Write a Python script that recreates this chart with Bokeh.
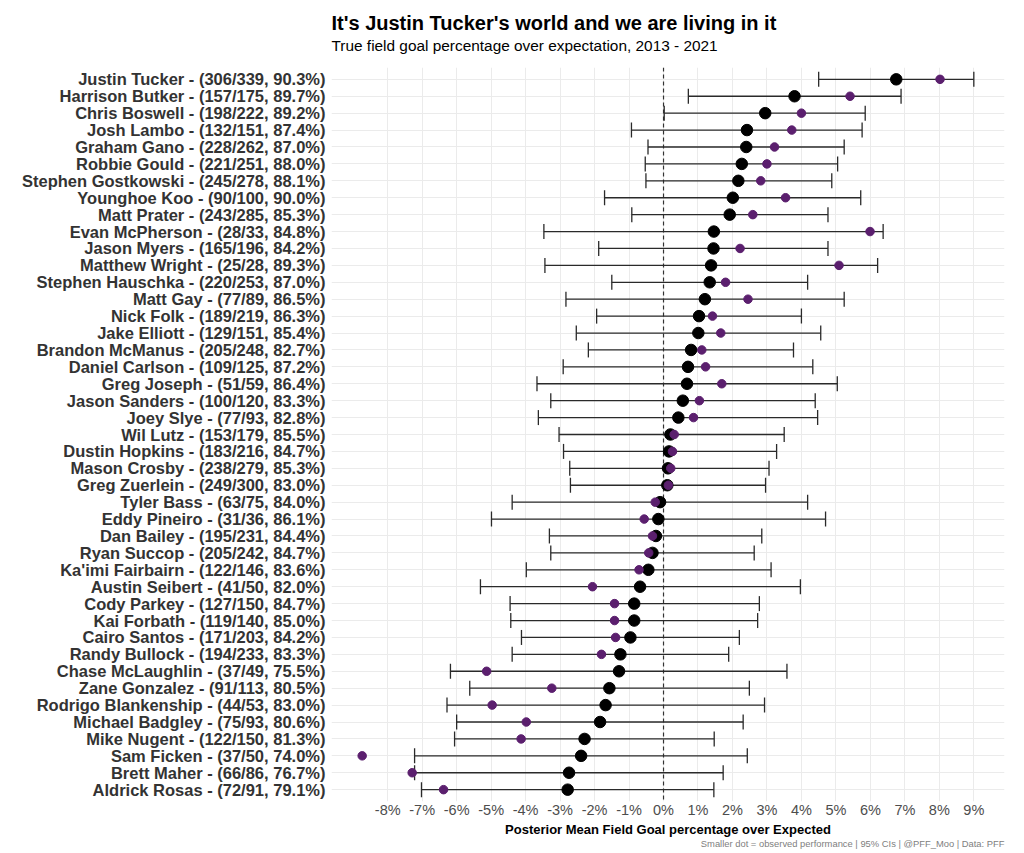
import math
from bokeh.plotting import figure
from bokeh.models import FactorRange, Range1d, FixedTicker, Span, Title, ColumnDataSource
from bokeh.embed import file_html
from bokeh.resources import INLINE

names = ["Justin Tucker", "Harrison Butker", "Chris Boswell", "Josh Lambo", "Graham Gano",
         "Robbie Gould", "Stephen Gostkowski", "Younghoe Koo", "Matt Prater", "Evan McPherson",
         "Jason Myers", "Matthew Wright", "Stephen Hauschka", "Matt Gay", "Nick Folk",
         "Jake Elliott", "Brandon McManus", "Daniel Carlson", "Greg Joseph", "Jason Sanders",
         "Joey Slye", "Wil Lutz", "Dustin Hopkins", "Mason Crosby", "Greg Zuerlein",
         "Tyler Bass", "Eddy Pineiro", "Dan Bailey", "Ryan Succop", "Ka'imi Fairbairn",
         "Austin Seibert", "Cody Parkey", "Kai Forbath", "Cairo Santos", "Randy Bullock",
         "Chase McLaughlin", "Zane Gonzalez", "Rodrigo Blankenship", "Michael Badgley", "Mike Nugent",
         "Sam Ficken", "Brett Maher", "Aldrick Rosas"]
made = [306, 157, 198, 132, 228, 221, 245, 90, 243, 28, 165, 25, 220, 77, 189, 129, 205, 109, 51, 100,
        77, 153, 183, 238, 249, 63, 31, 195, 205, 122, 41, 127, 119, 171, 194, 37, 91, 44, 75, 122,
        37, 66, 72]
attempts = [339, 175, 222, 151, 262, 251, 278, 100, 285, 33, 196, 28, 253, 89, 219, 151, 248, 125, 59, 120,
            93, 179, 216, 279, 300, 75, 36, 231, 242, 146, 50, 150, 140, 203, 233, 49, 113, 53, 93, 150,
            50, 86, 91]
fg_pct = [90.3, 89.7, 89.2, 87.4, 87.0, 88.0, 88.1, 90.0, 85.3, 84.8, 84.2, 89.3, 87.0, 86.5, 86.3,
          85.4, 82.7, 87.2, 86.4, 83.3, 82.8, 85.5, 84.7, 85.3, 83.0, 84.0, 86.1, 84.4, 84.7, 83.6,
          82.0, 84.7, 85.0, 84.2, 83.3, 75.5, 80.5, 83.0, 80.6, 81.3, 74.0, 76.7, 79.1]
posterior_mean = [6.75, 3.80, 2.95, 2.42, 2.40, 2.27, 2.17, 2.01, 1.92, 1.46, 1.45, 1.38, 1.34, 1.20, 1.03,
                  1.01, 0.80, 0.71, 0.68, 0.56, 0.43, 0.20, 0.16, 0.13, 0.11, -0.10, -0.15, -0.22, -0.32, -0.44,
                  -0.68, -0.85, -0.85, -0.96, -1.25, -1.29, -1.57, -1.68, -1.84, -2.29, -2.39, -2.74, -2.78]
observed = [8.02, 5.41, 4.00, 3.72, 3.22, 3.00, 2.82, 3.54, 2.59, 5.99, 2.22, 5.09, 1.80, 2.45, 1.42,
            1.66, 1.11, 1.22, 1.69, 1.04, 0.87, 0.31, 0.26, 0.21, 0.14, -0.24, -0.56, -0.32, -0.43, -0.71,
            -2.06, -1.42, -1.42, -1.39, -1.80, -5.13, -3.24, -4.97, -3.98, -4.13, -8.74, -7.29, -6.38]
ci_low = [4.50, 0.72, 0.02, -0.93, -0.45, -0.53, -0.51, -1.71, -0.92, -3.47, -1.88, -3.44, -1.50, -2.83, -1.94,
          -2.53, -2.18, -2.91, -3.67, -3.27, -3.63, -3.03, -2.90, -2.72, -2.70, -4.39, -4.99, -3.31, -3.27, -3.98,
          -5.31, -4.45, -4.43, -4.12, -4.39, -6.18, -5.62, -6.28, -6.00, -6.06, -7.22, -7.22, -7.02]
ci_high = [9.00, 6.89, 5.85, 5.76, 5.24, 5.05, 4.88, 5.72, 4.77, 6.37, 4.77, 6.21, 4.18, 5.24, 4.00,
           4.56, 3.77, 4.33, 5.04, 4.40, 4.47, 3.50, 3.28, 3.06, 2.96, 4.18, 4.70, 2.85, 2.63, 3.12,
           3.97, 2.78, 2.73, 2.20, 1.89, 3.58, 2.49, 2.93, 2.31, 1.47, 2.43, 1.73, 1.46]
x_ticks = list(range(-8, 10))

labels = [f"{n} - ({m}/{a}, {p:.1f}%)" for n, m, a, p in zip(names, made, attempts, fg_pct)]

src = ColumnDataSource(dict(label=labels, mean=posterior_mean, obs=observed, lo=ci_low, hi=ci_high))

FONT = "Liberation Sans"

p = figure(width=1024, height=853,
           y_range=FactorRange(factors=labels[::-1], range_padding=0.2, range_padding_units="absolute"),
           x_range=Range1d(-9.63, 9.89),
           output_backend="svg", toolbar_location=None, title_location=None,
           min_border_left=331, min_border_right=20, min_border_top=67, min_border_bottom=52)
p.outline_line_color = None
p.background_fill_color = "white"
p.border_fill_color = "white"

# grids
p.xgrid.ticker = FixedTicker(ticks=x_ticks)
p.xgrid.grid_line_color = "#EBEBEB"
p.ygrid.grid_line_color = "#EBEBEB"

# zero line
p.add_layout(Span(location=0, dimension="height", line_color="#333333", line_dash="4 3",
                  line_width=1.2, level="underlay"))

# error bars
ebc = "#2a2a2a"
p.segment(x0="lo", y0="label", x1="hi", y1="label", source=src, line_color=ebc, line_width=1.3)
p.scatter(x="lo", y="label", marker="dash", angle=math.pi / 2, size=15, line_color=ebc,
          line_width=1.3, source=src)
p.scatter(x="hi", y="label", marker="dash", angle=math.pi / 2, size=15, line_color=ebc,
          line_width=1.3, source=src)

# points
p.scatter(x="mean", y="label", size=11.5, fill_color="black", line_color="black", source=src)
p.scatter(x="obs", y="label", size=8.5, fill_color="#5B1F6E", line_color="#5B1F6E", source=src)

# axes
p.xaxis.ticker = FixedTicker(ticks=x_ticks)
p.xaxis.major_label_overrides = {t: f"{t}%" for t in x_ticks}
p.xaxis.axis_line_color = None
p.xaxis.major_tick_line_color = None
p.xaxis.minor_tick_line_color = None
p.xaxis.major_tick_out = 0
p.xaxis.major_tick_in = 0
p.xaxis.minor_tick_out = 0
p.xaxis.major_label_text_font = FONT
p.xaxis.major_label_text_font_size = "14.5px"
p.xaxis.major_label_text_color = "#4D4D4D"
p.xaxis.major_label_standoff = 0
p.xaxis.axis_label = "Posterior Mean Field Goal percentage over Expected"
p.xaxis.axis_label_text_font = FONT
p.xaxis.axis_label_text_font_style = "bold"
p.xaxis.axis_label_text_font_size = "13px"
p.xaxis.axis_label_text_color = "black"
p.xaxis.axis_label_standoff = 1

p.yaxis.axis_line_color = None
p.yaxis.major_tick_line_color = None
p.yaxis.minor_tick_line_color = None
p.yaxis.major_tick_out = 0
p.yaxis.major_tick_in = 0
p.yaxis.minor_tick_out = 0
p.yaxis.major_label_text_font = FONT
p.yaxis.major_label_text_font_style = "bold"
p.yaxis.major_label_text_font_size = "16.5px"
p.yaxis.major_label_text_color = "#333333"
p.yaxis.major_label_standoff = 6

# titles
sub = Title(text="True field goal percentage over expectation, 2013 - 2021", text_font=FONT,
            text_font_size="15.4px", text_font_style="normal", text_color="black", align="left",
            standoff=28)
main = Title(text="It's Justin Tucker's world and we are living in it", text_font=FONT,
             text_font_size="20px", text_font_style="bold", text_color="black", align="left",
             standoff=-26)
p.add_layout(sub, "above")
p.add_layout(main, "above")

cap = Title(text="Smaller dot = observed performance | 95% CIs | @PFF_Moo | Data: PFF", text_font=FONT,
            text_font_size="9.4px", text_font_style="normal", text_color="#808080", align="right",
            standoff=-7)
p.add_layout(cap, "below")

open("out.html", "w").write(file_html(p, INLINE))
